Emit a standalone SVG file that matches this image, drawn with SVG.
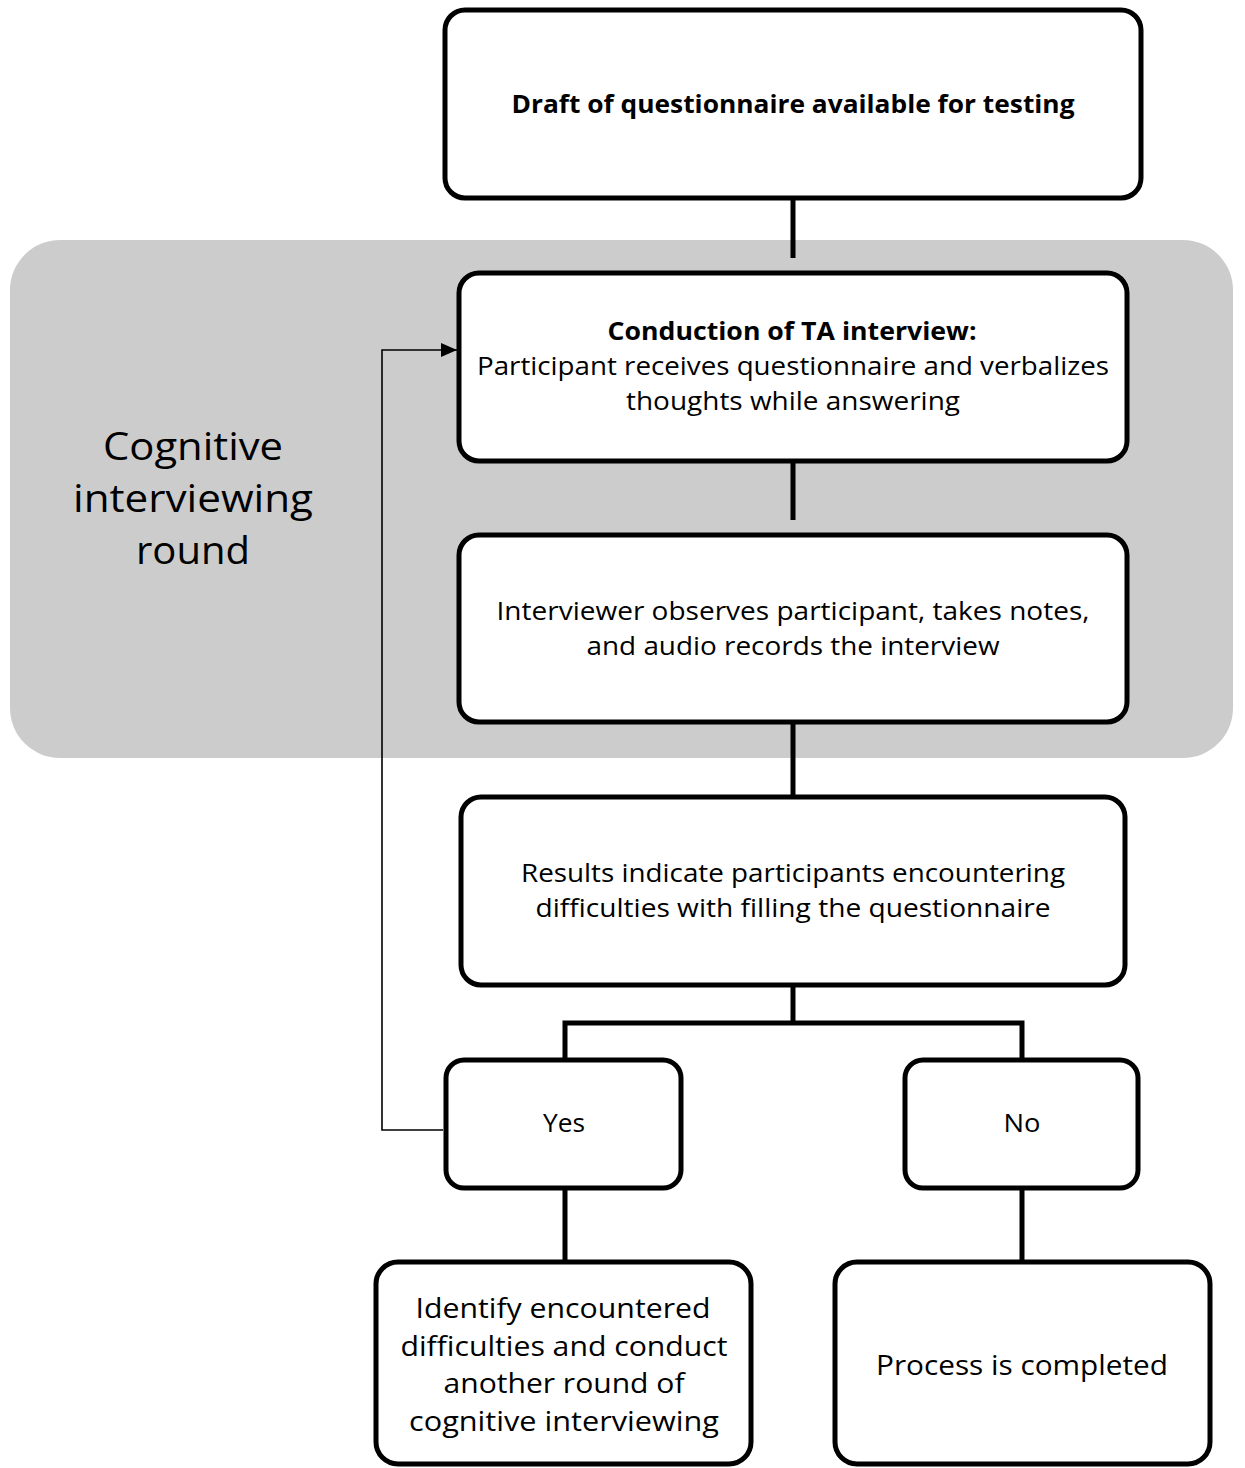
<svg xmlns="http://www.w3.org/2000/svg" width="1245" height="1468" viewBox="0 0 1245 1468">
  <style>
    .box { fill: #ffffff; stroke: #000000; stroke-width: 5; }
    .link { fill: none; stroke: #000000; stroke-width: 5; }
    .thin { fill: none; stroke: #000000; stroke-width: 1.6; }
    text { font-family: "Open Sans", "Noto Sans", sans-serif; font-size: 25px; fill: #000000; text-anchor: middle; }
    .b { font-weight: bold; }
    .lg { font-size: 27px; }
    .big { font-size: 38px; }
  </style>
  <defs>
    <marker id="arrow" viewBox="0 0 16 14" refX="16" refY="7" markerWidth="16" markerHeight="14" markerUnits="userSpaceOnUse" orient="auto">
      <path d="M0,0 L16,7 L0,14 Z" fill="#000000"/>
    </marker>
  </defs>

  <!-- shaded band for one interviewing round -->
  <g id="round-band">
    <rect x="10" y="240" width="1223" height="518" rx="50" ry="50" fill="#cccccc"/>
    <text class="big" x="193" y="460" textLength="180" lengthAdjust="spacingAndGlyphs">Cognitive</text>
    <text class="big" x="193" y="512" textLength="240" lengthAdjust="spacingAndGlyphs">interviewing</text>
    <text class="big" x="193" y="564" textLength="114" lengthAdjust="spacingAndGlyphs">round</text>
  </g>

  <g id="connectors">
    <line class="link" x1="793" y1="198" x2="793" y2="258"/>
    <line class="link" x1="793" y1="461" x2="793" y2="520"/>
    <line class="link" x1="793" y1="722" x2="793" y2="797"/>
    <line class="link" x1="793" y1="985" x2="793" y2="1023"/>
    <path class="link" d="M565,1060 V1023 H1022 V1060"/>
    <line class="link" x1="565" y1="1188" x2="565" y2="1262"/>
    <line class="link" x1="1022" y1="1188" x2="1022" y2="1262"/>
    <path class="thin" d="M443,1130 H382 V350 H457" marker-end="url(#arrow)"/>
  </g>

  <g id="draft">
    <rect class="box" x="445" y="10" width="696" height="188" rx="20" ry="20"/>
    <text class="b" x="793" y="113" textLength="563" lengthAdjust="spacingAndGlyphs">Draft of questionnaire available for testing</text>
  </g>

  <g id="ta-interview">
    <rect class="box" x="459" y="273" width="668" height="188" rx="20" ry="20"/>
    <text class="b" x="792" y="340" textLength="369" lengthAdjust="spacingAndGlyphs">Conduction of TA interview:</text>
    <text x="793" y="375" textLength="632" lengthAdjust="spacingAndGlyphs">Participant receives questionnaire and verbalizes</text>
    <text x="793" y="410" textLength="334" lengthAdjust="spacingAndGlyphs">thoughts while answering</text>
  </g>

  <g id="observation">
    <rect class="box" x="459" y="535" width="668" height="187" rx="20" ry="20"/>
    <text x="793" y="620" textLength="593" lengthAdjust="spacingAndGlyphs">Interviewer observes participant, takes notes,</text>
    <text x="793" y="655" textLength="413" lengthAdjust="spacingAndGlyphs">and audio records the interview</text>
  </g>

  <g id="results">
    <rect class="box" x="461" y="797" width="664" height="188" rx="20" ry="20"/>
    <text x="793" y="882" textLength="544" lengthAdjust="spacingAndGlyphs">Results indicate participants encountering</text>
    <text x="793" y="917" textLength="515" lengthAdjust="spacingAndGlyphs">difficulties with filling the questionnaire</text>
  </g>

  <g id="yes">
    <rect class="box" x="446" y="1060" width="235" height="128" rx="18" ry="18"/>
    <text x="564" y="1132" textLength="42" lengthAdjust="spacingAndGlyphs">Yes</text>
  </g>

  <g id="no">
    <rect class="box" x="905" y="1060" width="233" height="128" rx="18" ry="18"/>
    <text x="1022" y="1132" textLength="37" lengthAdjust="spacingAndGlyphs">No</text>
  </g>

  <g id="next-round">
    <rect class="box" x="376" y="1262" width="375" height="202" rx="22" ry="22"/>
    <text class="lg" x="563" y="1318" textLength="295" lengthAdjust="spacingAndGlyphs">Identify encountered</text>
    <text class="lg" x="564" y="1356" textLength="327" lengthAdjust="spacingAndGlyphs">difficulties and conduct</text>
    <text class="lg" x="564" y="1393" textLength="241" lengthAdjust="spacingAndGlyphs">another round of</text>
    <text class="lg" x="564" y="1431" textLength="310" lengthAdjust="spacingAndGlyphs">cognitive interviewing</text>
  </g>

  <g id="completed">
    <rect class="box" x="835" y="1262" width="375" height="202" rx="22" ry="22"/>
    <text class="lg" x="1022" y="1375" textLength="292" lengthAdjust="spacingAndGlyphs">Process is completed</text>
  </g>
</svg>
